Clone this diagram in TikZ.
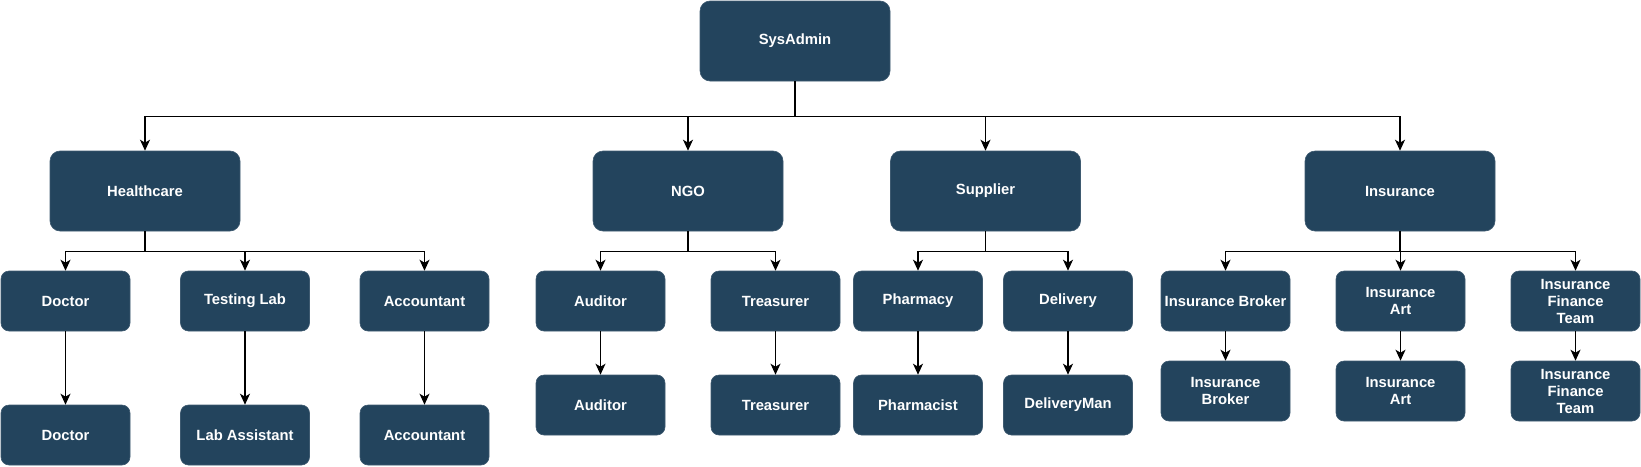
\documentclass[tikz,border=0pt]{standalone}
\usepackage{fontspec}
\setmainfont{Liberation Sans}
\usetikzlibrary{arrows.meta}
\definecolor{boxfill}{HTML}{23445D}
\definecolor{boxedge}{HTML}{3E5A70}
\begin{document}
\begin{tikzpicture}[x=1pt,y=-1pt,
 box/.style={rectangle, fill=boxfill, draw=boxedge, line width=0.6pt, text=white,
   font=\fontsize{14.8}{17}\selectfont\bfseries, align=center, inner sep=0pt},
 big/.style={box, minimum width=190pt, minimum height=80pt, rounded corners=10pt},
 small/.style={box, minimum width=129pt, minimum height=60pt, rounded corners=8pt},
 link/.style={draw=black, line width=1.3pt, -{Stealth[length=11pt,width=10pt,inset=3pt]}}
]
\useasboundingbox (0,0) rectangle (1641,466);
% level 0
\node[big] (sys) at (795,41) {SysAdmin};
% level 1
\node[big] (hc) at (145,191) {Healthcare};
\node[big] (ngo) at (688,191) {NGO};
\node[big] (sup) at (985.5,191) {Supplier};
\node[big] (ins) at (1400,191) {Insurance};
% level 2
\node[small] (doc) at (65.5,301) {Doctor};
\node[small] (lab) at (245,301) {Testing Lab};
\node[small] (acc) at (424.5,301) {Accountant};
\node[small] (aud) at (600.5,301) {Auditor};
\node[small] (tre) at (775.5,301) {Treasurer};
\node[small] (pha) at (918,301) {Pharmacy};
\node[small] (del) at (1068,301) {Delivery};
\node[small] (ib) at (1225.5,301) {Insurance Broker};
\node[small] (ia) at (1400.5,301) {Insurance\\Art};
\node[small] (ift) at (1575.5,301) {Insurance\\Finance\\Team};
% level 3
\node[small] (doc2) at (65.5,435) {Doctor};
\node[small] (la) at (245,435) {Lab Assistant};
\node[small] (acc2) at (424.5,435) {Accountant};
\node[small] (aud2) at (600.5,405) {Auditor};
\node[small] (tre2) at (775.5,405) {Treasurer};
\node[small] (phm) at (918,405) {Pharmacist};
\node[small] (dm) at (1068,405) {DeliveryMan};
\node[small] (ib2) at (1225.5,391) {Insurance\\Broker};
\node[small] (ia2) at (1400.5,391) {Insurance\\Art};
\node[small] (ift2) at (1575.5,391) {Insurance\\Finance\\Team};
% connectors level 0 -> 1
\foreach \t in {hc,ngo,sup,ins}{
  \draw[link] (sys.south) -- ++(0,35) -| (\t.north);
}
% level 1 -> 2
\foreach \t in {doc,lab,acc}{ \draw[link] (hc.south) -- ++(0,20) -| (\t.north); }
\foreach \t in {aud,tre}{ \draw[link] (ngo.south) -- ++(0,20) -| (\t.north); }
\foreach \t in {pha,del}{ \draw[link] (sup.south) -- ++(0,20) -| (\t.north); }
\foreach \t in {ib,ia,ift}{ \draw[link] (ins.south) -- ++(0,20) -| (\t.north); }
% level 2 -> 3
\draw[link] (doc.south) -- (doc2.north);
\draw[link] (lab.south) -- (la.north);
\draw[link] (acc.south) -- (acc2.north);
\draw[link] (aud.south) -- (aud2.north);
\draw[link] (tre.south) -- (tre2.north);
\draw[link] (pha.south) -- (phm.north);
\draw[link] (del.south) -- (dm.north);
\draw[link] (ib.south) -- (ib2.north);
\draw[link] (ia.south) -- (ia2.north);
\draw[link] (ift.south) -- (ift2.north);
\end{tikzpicture}
\end{document}
